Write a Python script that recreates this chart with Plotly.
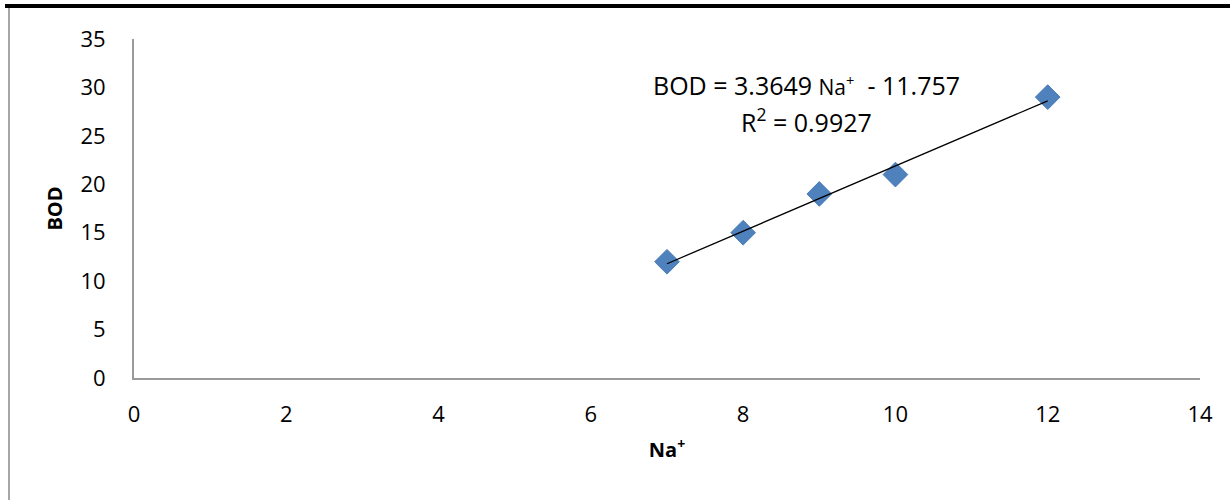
import numpy as np
import plotly.graph_objects as go

na = [7, 8, 9, 10, 12]
bod = [12, 15, 19, 21, 29]
x_ticks = [0, 2, 4, 6, 8, 10, 12, 14]
y_ticks = [0, 5, 10, 15, 20, 25, 30, 35]

slope, intercept = np.polyfit(na, bod, 1)
pred = np.polyval([slope, intercept], na)
ss_res = np.sum((np.array(bod) - pred) ** 2)
ss_tot = np.sum((np.array(bod) - np.mean(bod)) ** 2)
r2 = 1 - ss_res / ss_tot

W, H = 1230, 500
L, R, T, B = 134, 30, 39, 122
PW, PH = W - L - R, H - T - B

def px(x):
    return (x - L) / PW

def py(y):
    return (H - B - y) / PH

FONT = "Open Sans"

fig = go.Figure()
fig.add_trace(go.Scatter(
    x=na, y=bod, mode="markers",
    marker=dict(symbol="diamond", size=19, color="#4F81BD",
                line=dict(color="#4A7DBA", width=1)),
    showlegend=False, cliponaxis=False))
xl = [min(na), max(na)]
fig.add_trace(go.Scatter(
    x=xl, y=list(np.polyval([slope, intercept], xl)), mode="lines",
    line=dict(color="black", width=1.3), showlegend=False))

fig.add_annotation(
    x=8.83, y=30.2, xref="x", yref="y", showarrow=False,
    text=f"BOD = {slope:.4f} <span style='font-size:21px'>Na<sup>+</sup></span>  - {abs(intercept):.3f}",
    font=dict(family=FONT, size=25, color="black"))
fig.add_annotation(
    x=8.83, y=26.6, xref="x", yref="y", showarrow=False,
    text=f"R<sup>2</sup> = {r2:.4f}",
    font=dict(family=FONT, size=25, color="black"))

fig.add_shape(type="line", xref="paper", yref="paper",
              x0=px(5), x1=px(1230), y0=py(6), y1=py(6),
              line=dict(color="black", width=4))
fig.add_shape(type="line", xref="paper", yref="paper",
              x0=px(9), x1=px(9), y0=py(8), y1=py(500),
              line=dict(color="#A6A6A6", width=2))

fig.update_layout(
    width=W, height=H,
    margin=dict(l=L, r=R, t=T, b=B),
    paper_bgcolor="white", plot_bgcolor="white",
    font=dict(family=FONT, size=22, color="black"),
    xaxis=dict(range=[0, 14], tickvals=x_ticks, showgrid=False, zeroline=False,
               showline=True, linecolor="#9A9A9A", linewidth=2, ticks="",
               ticklabelstandoff=16,
               title=dict(text="<b>Na<sup>+</sup></b>", font=dict(size=20), standoff=16)),
    yaxis=dict(range=[0, 35], tickvals=y_ticks, showgrid=False, zeroline=False,
               showline=True, linecolor="#9A9A9A", linewidth=2, ticks="",
               ticklabelstandoff=22,
               title=dict(text="<b>BOD</b>", font=dict(size=20), standoff=12)),
)

fig.write_html("out.html", config={"displayModeBar": False},
               post_script="document.body.style.margin='0';")
